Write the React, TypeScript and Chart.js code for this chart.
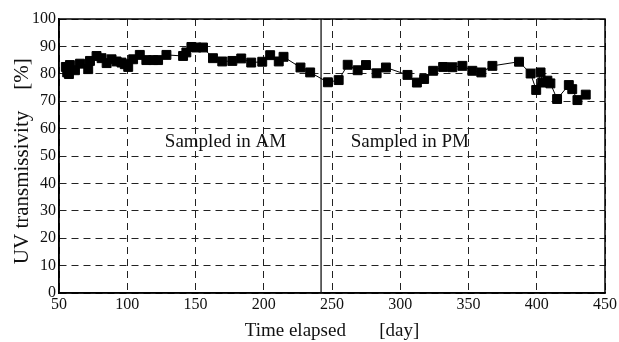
import React, { useEffect, useRef } from "react";
import Chart from "chart.js/auto";

const days = [55, 56, 57.3, 58, 61.7, 65.4, 71.4, 72.7, 77.5, 81.2, 84.9, 88.5, 92.2, 95.8, 98.2, 100.7, 104.3, 109.2, 114, 119, 122.6, 128.7, 140.9, 143.3, 147, 150.7, 155.5, 162.8, 169.6, 177, 183.5, 190.8, 198.9, 204.7, 211, 214.5, 226.9, 234, 247, 254.9, 261.5, 268.8, 274.9, 282.7, 289.5, 305.3, 312.2, 317.5, 324.1, 331.4, 338.2, 345.5, 352.8, 359.4, 367.5, 387, 395.5, 399.6, 402.8, 404, 407.8, 410, 414.9, 423.5, 426, 429.8, 435.9];
const uvValues = [82.5, 80.5, 79.9, 83.2, 81.3, 83.7, 81.7, 84.7, 86.5, 85.7, 83.9, 85.3, 84.5, 84.1, 83.5, 82.5, 85.3, 86.9, 85, 85, 85, 86.9, 86.5, 87.8, 89.8, 89.6, 89.6, 85.7, 84.5, 84.7, 85.6, 84.1, 84.4, 86.8, 84.5, 86.2, 82.3, 80.5, 76.9, 77.7, 83.3, 81.3, 83.2, 80.2, 82.3, 79.6, 76.8, 78.1, 81.1, 82.5, 82.4, 82.9, 81.1, 80.5, 82.9, 84.4, 80.1, 74.1, 80.5, 76.8, 77.5, 76.5, 70.8, 75.9, 74.4, 70.4, 72.4];
const dividerDay = 242;
const xTicks = [50, 100, 150, 200, 250, 300, 350, 400, 450];
const yTicks = [0, 10, 20, 30, 40, 50, 60, 70, 80, 90, 100];
const annotations = [
  { text: "Sampled in AM", day: 172, value: 55 },
  { text: "Sampled in PM", day: 307, value: 55 },
];

const FONT = "'Liberation Serif', 'Times New Roman', serif";

export default function App() {
  const ref = useRef<HTMLCanvasElement | null>(null);
  useEffect(() => {
    document.body.style.margin = "0";
    const canvas = ref.current;
    if (!canvas) return;
    const framePlugin = {
      id: "frame",
      afterDatasetsDraw(chart: any) {
        const { ctx, chartArea, scales } = chart;
        ctx.save();
        ctx.strokeStyle = "#000";
        ctx.lineWidth = 1.5;
        ctx.strokeRect(chartArea.left, chartArea.top, chartArea.right - chartArea.left, chartArea.bottom - chartArea.top);
        ctx.fillStyle = "#111";
        ctx.font = "19px " + FONT;
        ctx.textAlign = "center";
        ctx.textBaseline = "middle";
        annotations.forEach((a) => {
          ctx.fillText(a.text, scales.x.getPixelForValue(a.day), scales.y.getPixelForValue(a.value));
        });
        ctx.restore();
      },
    };
    const chart = new Chart(canvas, {
      type: "scatter",
      data: {
        datasets: [
          {
            data: days.map((d, i) => ({ x: d, y: uvValues[i] })),
            showLine: true,
            borderColor: "#000",
            borderWidth: 1,
            backgroundColor: "#000",
            pointBackgroundColor: "#000",
            pointBorderColor: "#000",
            pointStyle: "rect",
            pointRadius: 6.3,
          },
          {
            data: [
              { x: dividerDay, y: 0 },
              { x: dividerDay, y: 100 },
            ],
            showLine: true,
            borderColor: "#333",
            borderWidth: 1.5,
            pointRadius: 0,
          },
        ],
      },
      options: {
        animation: false,
        responsive: false,
        maintainAspectRatio: false,
        layout: { padding: { left: 0, right: 13, top: 19, bottom: 0 } },
        plugins: { legend: { display: false }, tooltip: { enabled: false } },
        scales: {
          x: {
            type: "linear",
            min: 50,
            max: 450,
            afterBuildTicks: (s: any) => {
              s.ticks = xTicks.map((v) => ({ value: v }));
            },
            afterFit: (s: any) => {
              s.height = 49;
            },
            ticks: { color: "#111", font: { family: FONT, size: 16 }, padding: 2, maxRotation: 0 },
            grid: { color: "#222", lineWidth: 1, drawTicks: false, tickLength: 0 },
            border: { display: true, color: "#000", width: 1.5, dash: [7, 5] },
            title: {
              display: true,
              text: "Time elapsed       [day]",
              color: "#111",
              font: { family: FONT, size: 19 },
              padding: { top: 2, bottom: 0 },
            },
          },
          y: {
            type: "linear",
            min: 0,
            max: 100,
            afterBuildTicks: (s: any) => {
              s.ticks = yTicks.map((v) => ({ value: v }));
            },
            afterFit: (s: any) => {
              s.width = 59;
            },
            ticks: { color: "#111", font: { family: FONT, size: 16 }, padding: 3 },
            grid: { color: "#222", lineWidth: 1, drawTicks: false, tickLength: 0 },
            border: { display: true, color: "#000", width: 1.5, dash: [7, 5] },
            title: {
              display: true,
              text: "UV transmissivity    [%]  ",
              color: "#111",
              font: { family: FONT, size: 21 },
              padding: { top: 10, bottom: 2 },
            },
          },
        },
      },
      plugins: [framePlugin],
    } as any);
    return () => chart.destroy();
  }, []);
  return (
    <div style={{ width: 619, height: 342 }}>
      <canvas ref={ref} width={619} height={342} style={{ display: "block" }} />
    </div>
  );
}
